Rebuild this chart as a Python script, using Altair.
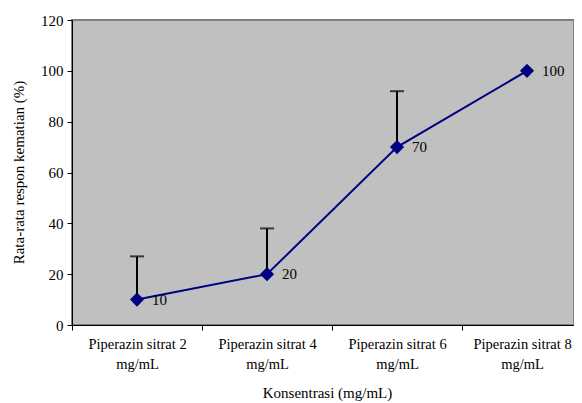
import json
import altair as alt
import pandas as pd

categories = ["Piperazin sitrat 2 mg/mL", "Piperazin sitrat 4 mg/mL",
              "Piperazin sitrat 6 mg/mL", "Piperazin sitrat 8 mg/mL"]
means = [10, 20, 70, 100]
upper = [27, 38, 92, None]
labels = ["10", "20", "70", "100"]

df = pd.DataFrame({"cat": categories, "mean": means, "upper": upper, "label": labels})
df["pos"] = [i + 0.5 for i in range(len(categories))]
err = df.dropna(subset=["upper"])

FONT = "Times New Roman"
FS = 15
LFS = 14.5
NAVY = "#000080"

first_lines = json.dumps([c.replace(" mg/mL", "") for c in categories])
label_expr = ("(datum.value % 1) > 0.25 ? [" + first_lines +
              "[floor(datum.value)], 'mg/mL'] : ''")
tick_vals = [v / 2 for v in range(0, 2 * len(categories))]

xscale = alt.Scale(domain=[0, 502 / 130], nice=False, zero=False)
x = alt.X("pos:Q", scale=xscale,
          axis=alt.Axis(title="Konsentrasi (mg/mL)", labelAngle=0, values=tick_vals,
                        labelExpr=label_expr,
                        tickOpacity={"condition": {"test": "(datum.value % 1) < 0.25", "value": 1}, "value": 0},
                        labelOffset={"condition": {"test": "datum.value > 3", "value": -5}, "value": 0},
                        labelLineHeight=20, labelPadding=7, labelBaseline="top",
                        labelFlush=False, labelOverlap=False,
                        tickSize=5, tickColor="#000000", domainColor="#000000",
                        domainWidth=1, labelFontSize=LFS, labelFont=FONT, labelColor="#000000",
                        titleFont=FONT, titleFontSize=FS, titleFontWeight="normal",
                        titleColor="#000000", titleX=255, titleY=67, titleBaseline="middle",
                        labelLimit=200, grid=False))
y = alt.Y("mean:Q", scale=alt.Scale(domain=[0, 120], nice=False),
          axis=alt.Axis(title="Rata-rata respon kematian (%)", values=[0, 20, 40, 60, 80, 100, 120],
                        tickSize=5, tickColor="#000000", domainColor="#000000", domainWidth=1,
                        labelFontSize=FS, labelFont=FONT, labelColor="#000000", labelPadding=4,
                        titleFont=FONT, titleFontSize=FS, titleFontWeight="normal",
                        titleColor="#000000", titleX=-54, titleY=152, titleAngle=-90,
                        titleAlign="center", titleBaseline="middle", grid=False))

bars = alt.Chart(err).mark_rule(color="#000000", strokeWidth=2).encode(
    x=x, y=y, y2="upper:Q")
caps = alt.Chart(err).mark_tick(color="#000000", thickness=2, size=14, orient="horizontal").encode(
    x=x, y=alt.Y("upper:Q", scale=alt.Scale(domain=[0, 120], nice=False)))
line = alt.Chart(df).mark_line(color=NAVY, strokeWidth=2).encode(x=x, y=y)
pts = alt.Chart(df).mark_point(shape="diamond", filled=True, color=NAVY, size=200, opacity=1).encode(x=x, y=y)
txt = alt.Chart(df).mark_text(align="left", baseline="middle", dx=15, font=FONT,
                              fontSize=FS, color="#000000").encode(x=x, y=y, text="label:N")

chart = alt.layer(bars, caps, line, pts, txt).properties(
    width=502, height=305,
    autosize=alt.AutoSizeParams(type="none"),
    padding={"left": 64, "top": 12, "right": 0, "bottom": 78},
).configure_view(fill="#C0C0C0", stroke="#808080", strokeWidth=2)

chart.save("out.html", embed_options={"renderer": "svg", "actions": False})
